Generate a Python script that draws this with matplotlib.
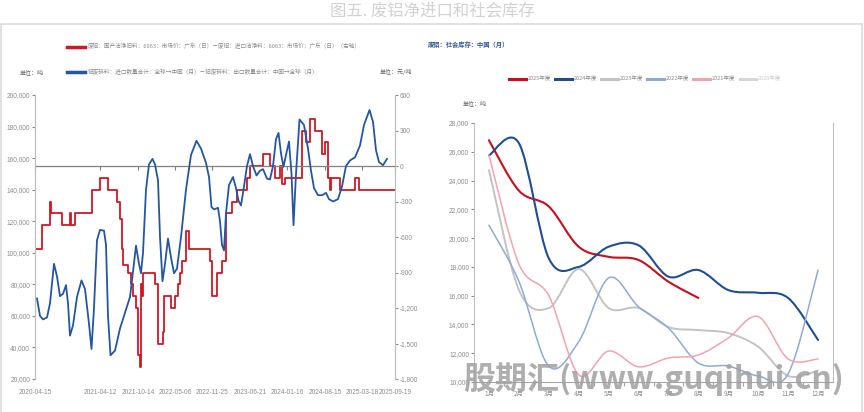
import numpy as np
import matplotlib
matplotlib.use('Agg')
import matplotlib.pyplot as plt
from matplotlib.lines import Line2D
from matplotlib.patches import PathPatch, Rectangle
from matplotlib.path import Path
from matplotlib.ticker import FuncFormatter, FixedLocator

CJK = ['Noto Sans CJK SC', 'DejaVu Sans']
NUM = ['Liberation Sans', 'Noto Sans CJK SC']
plt.rcParams['font.family'] = CJK

# ---- left panel: price spread (right axis, step) and net imports (left axis)
# x is the sample position along the category axis
date_ticks = [0, 65, 103, 140, 177, 215, 252, 290, 327, 360]
date_labels = ['2020-04-15', '2021-04-12', '2021-10-14', '2022-05-06', '2022-11-25',
               '2023-06-21', '2024-01-16', '2024-08-15', '2025-03-18', '2025-09-19']

spread_x = [0, 6.7, 15, 16, 27, 35, 36, 40, 56.7, 65, 73, 82, 85, 87, 88, 93, 96, 98, 101,
            103.5, 105, 106.5, 107.5, 108.5, 120, 123.5, 128, 129, 136.5, 140, 143, 145.5,
            147, 151.5, 154.5, 175, 177.5, 182, 187.5, 191, 197, 202, 212, 215, 228, 235,
            240, 245, 247, 250, 267, 271, 275, 280, 287, 290, 293, 295, 296.5, 305, 320,
            324, 360]
spread_y = [-700, -500, -300, -400, -500, -400, -500, -400, -200, -100, -200, -300, -450,
            -700, -840, -900, -1000, -1100, -1200, -1600, -1700, -1000, -1100, -900, -1000,
            -1500, -1400, -1100, -1200, -1100, -1000, -900, -800, -550, -700, -800, -1100,
            -900, -800, -400, -300, -200, -100, 0, 100, 0, -100, 0, -150, -100, 300, 200,
            400, 300, 100, 200, -100, -200, -100, -200, -100, -200, -200]

netimp_x = [2, 5, 8, 12, 15, 19, 22, 25, 28, 31, 33, 35, 38, 42, 46.5, 50, 54, 56.5, 59, 62,
            65, 69, 71, 73, 75.5, 80, 85, 91, 95, 98, 101, 104, 106, 108, 111, 114, 117.5,
            120, 123, 125, 127.5, 130, 133, 136, 139, 142, 146, 151, 156, 161.5, 166, 171,
            174, 176.5, 179, 183, 185, 187, 189, 191, 194, 198, 201, 203.5, 206, 209, 212,
            215, 218, 221.5, 225, 228, 232, 235, 238, 241, 243.5, 246, 248.5, 251, 254,
            256.5, 258.5, 261, 264.5, 269, 273, 276, 279, 283, 287, 291, 294, 298, 303,
            307, 311, 315, 320, 325, 329, 334.5, 338, 341, 344, 348, 352]
netimp_y = [71000, 60000, 57800, 59000, 68000, 93000, 85000, 72500, 74000, 79500, 68000,
            47500, 54000, 72000, 82500, 77000, 55000, 39000, 65000, 108000, 114500, 114000,
            105000, 60000, 35000, 38000, 52000, 64000, 72000, 88000, 104500, 93000, 87000,
            100000, 140000, 156000, 159500, 156000, 146000, 110000, 82000, 93000, 109000,
            97000, 87000, 90000, 110000, 140000, 162000, 171000, 166000, 157000, 148000,
            129000, 127500, 128500, 120000, 105000, 101500, 125000, 143000, 148000, 141000,
            133000, 130000, 142000, 155000, 162500, 155000, 149000, 152000, 153000, 147000,
            146500, 155000, 172000, 176000, 163000, 154500, 162000, 170500, 150000, 117500,
            150000, 184500, 181000, 166000, 152000, 141000, 136500, 136500, 138000, 134000,
            132500, 134000, 142000, 155000, 158500, 160500, 168000, 181000, 190500, 183000,
            165000, 157500, 155500, 159500]

# ---- right panel: social inventory by month
months = list(range(1, 13))
month_labels = [f'{m}月' for m in months]
inv_2025 = [26800, 23300, 22200, 19400, 18700, 18480, 16970, 15840]
inv_2024 = [25750, 26600, 18600, 18000, 19400, 19500, 17320, 17780, 16390, 16200, 15840, 12920]
inv_2023 = [24730, 16400, 15140, 17850, 15140, 15140, 13820, 13610, 13400, 12450, 10420, 10790]
inv_2022 = [20900, 17000, 11100, 12800, 17230, 15230, 13750, 11320, 11110, 10420, 10560, 17780]
inv_2021 = [25780, 18200, 16000, 10500, 12150, 11060, 11670, 11880, 13060, 14540, 11600, 11600]
inv_2020 = []
years = ['2025年度', '2024年度', '2023年度', '2022年度', '2021年度', '2020年度']
year_colors = ['#c8101c', '#1f4e96', '#c3c3c3', '#8eaad8', '#f5a3ab', '#d6d6d6']
year_widths = [1.5, 1.5, 1.4, 1.1, 1.1, 1.1]

GRAY = '#8c8c8c'
SPINE = '#bfbfbf'


def smooth_path(xs, ys):
    pts = np.column_stack([xs, ys]).astype(float)
    verts, codes = [pts[0]], [Path.MOVETO]
    n = len(pts)
    for i in range(n - 1):
        p0 = pts[i - 1] if i > 0 else pts[i]
        p1, p2 = pts[i], pts[i + 1]
        p3 = pts[i + 2] if i + 2 < n else p2
        verts += [p1 + (p2 - p0) / 6, p2 - (p3 - p1) / 6, p2]
        codes += [Path.CURVE4] * 3
    return Path(verts, codes)


fig = plt.figure(figsize=(8.64, 4.12), dpi=100)
W, H = 864, 412


def fx(px):
    return px / W


def fy(py):
    return 1 - py / H


fig.text(0.5, fy(11), '图五. 废铝净进口和社会库存', ha='center', va='center',
         fontsize=11.8, color='#d2d2d2')
fig.add_artist(Rectangle((fx(1), -0.01), fx(861), fy(24) + 0.01, transform=fig.transFigure,
                         fill=False, edgecolor='#dcdcdc', lw=1.2))

# ---------------- left panel
ax1 = fig.add_axes([fx(35), fy(379), fx(360), (379 - 95) / H])
ax2 = ax1.twinx()
blue, = ax1.plot(netimp_x, netimp_y, color='#2356a4', lw=1.3, zorder=3)
red, = ax2.step(spread_x, spread_y, where='post', color='#d01824', lw=1.3, zorder=2)
ax1.set_zorder(ax2.get_zorder() + 1)
ax1.patch.set_visible(False)

ax1.set_xlim(0, 360)
ax1.set_ylim(20000, 200000)
ax2.set_ylim(-1800, 600)
ax1.set_yticks(np.arange(20000, 200001, 20000))
ax2.set_yticks(np.arange(-1800, 601, 300))
fmt = FuncFormatter(lambda v, p: f'{v:,.0f}')
ax1.yaxis.set_major_formatter(fmt)
ax2.yaxis.set_major_formatter(fmt)
ax1.set_xticks(date_ticks)
ax1.set_xticklabels(date_labels)

for a in (ax1, ax2):
    for s in ('top', 'bottom'):
        a.spines[s].set_visible(False)
    a.spines['left'].set_color(SPINE)
    a.spines['right'].set_color(SPINE)
ax1.tick_params(axis='y', length=2, width=0.8, color=GRAY, labelsize=4.7, labelcolor=GRAY, pad=1.5)
ax2.tick_params(axis='y', length=2, width=0.8, color=GRAY, labelsize=4.7, labelcolor=GRAY, pad=1.5)
ax1.tick_params(axis='x', length=0, labelsize=4.7, labelcolor=GRAY, pad=7)
for lab in ax1.get_xticklabels() + ax1.get_yticklabels() + ax2.get_yticklabels():
    lab.set_family(NUM)

# zero line of the right axis, with the date ticks on it
ax2.xaxis.set_visible(True)
ax2.spines['bottom'].set_visible(True)
ax2.spines['bottom'].set_position(('data', 0))
ax2.spines['bottom'].set_color('#808080')
ax2.spines['bottom'].set_linewidth(0.9)
ax2.tick_params(axis='x', bottom=True, labelbottom=False, length=3, width=0.8, color='#808080')

ax1.legend([red, blue],
           ['废铝：国产洁净旧料：6063：市场价：广东（日）－废铝：进口洁净料：6063：市场价：广东（日）（右轴）',
            '铝废碎料：进口数量合计：全球→中国（月）－铝废碎料：出口数量合计：中国→全球（月）'],
           loc='center left', bbox_to_anchor=(fx(67), fy(59)), bbox_transform=fig.transFigure,
           frameon=False, fontsize=4.1, labelcolor=GRAY, handlelength=3.2, handletextpad=0.5,
           labelspacing=3.35, borderaxespad=0, borderpad=0)
for l in ax1.get_legend().get_lines():
    l.set_linewidth(2.5)
fig.text(fx(20), fy(72), '单位：吨', fontsize=4.3, color='#666666', va='center')
fig.text(fx(380), fy(72), '单位：元/吨', fontsize=4.3, color='#666666', va='center')

# ---------------- right panel
ax3 = fig.add_axes([fx(474), fy(382), fx(359), (382 - 123) / H])
series = [inv_2025, inv_2024, inv_2023, inv_2022, inv_2021, inv_2020]
handles = []
for vals, c, lw in zip(series, year_colors, year_widths):
    if len(vals) > 1:
        ax3.add_patch(PathPatch(smooth_path(months[:len(vals)], vals), fill=False,
                                edgecolor=c, lw=lw, capstyle='round', joinstyle='round'))
    handles.append(Line2D([], [], color=c, lw=2.2))
ax3.set_xlim(0.5, 12.5)
ax3.set_ylim(10000, 28000)
ax3.set_yticks(np.arange(10000, 28001, 2000))
ax3.yaxis.set_major_formatter(fmt)
ax3.set_xticks(months)
ax3.set_xticklabels(month_labels)
ax3.xaxis.set_minor_locator(FixedLocator(np.arange(1.5, 12, 1)))
ax3.spines['top'].set_visible(False)
ax3.spines['left'].set_color(SPINE)
ax3.spines['right'].set_color(SPINE)
ax3.spines['bottom'].set_color('#a6a6a6')
ax3.tick_params(axis='y', length=2, width=0.8, color=GRAY, labelsize=4.8, labelcolor=GRAY, pad=1.5)
ax3.tick_params(axis='x', which='major', length=0, labelsize=4.6, labelcolor=GRAY, pad=6)
ax3.tick_params(axis='x', which='minor', length=3, width=0.8, color='#a6a6a6')
for lab in ax3.get_yticklabels():
    lab.set_family(NUM)

leg = ax3.legend(handles, years, loc='center left', bbox_to_anchor=(fx(509), fy(79)),
                 bbox_transform=fig.transFigure, ncol=6, frameon=False, fontsize=4.0,
                 labelcolor=GRAY, handlelength=3.0, handletextpad=0.35, columnspacing=0.75,
                 borderaxespad=0, borderpad=0)
leg.get_texts()[-1].set_color('#cccccc')

fig.text(fx(428), fy(45), '废铝：社会库存：中国（月）', fontsize=4.5, color='#2e5597',
         weight='bold', va='center')
fig.text(fx(463), fy(103), '单位：吨', fontsize=4.3, color='#666666', va='center')

# site watermark over the right panel
fig.text(fx(654), fy(379), '股期汇(www.guqihui.cn)', ha='center', va='center',
         fontsize=23, weight='bold', color='#a0a0a0', alpha=0.85, zorder=10)

fig.savefig('out.png', dpi=100, facecolor='white')
